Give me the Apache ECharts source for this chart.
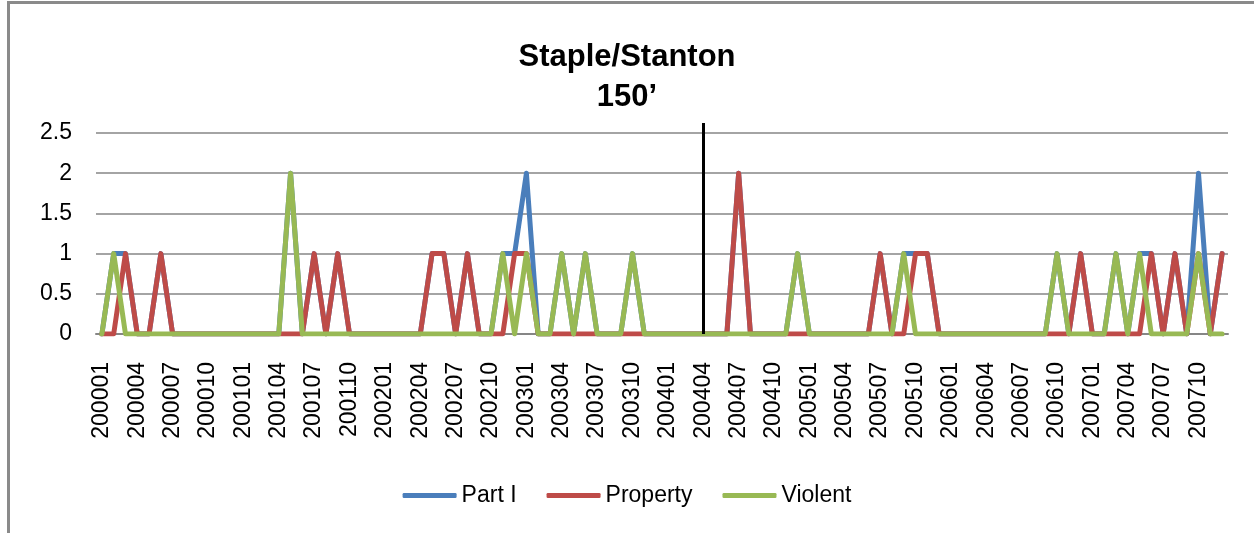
<!DOCTYPE html>
<html>
<head>
<meta charset="utf-8">
<script src="https://cdn.jsdelivr.net/npm/echarts@6/dist/echarts.min.js"></script>
<style>
html,body{margin:0;padding:0;background:#fff;}
#wrap{position:relative;width:1254px;height:533px;overflow:hidden;}
#main{position:absolute;left:0;top:0;width:1254px;height:533px;}
#frame{position:absolute;left:7px;top:1px;right:-10px;bottom:-10px;border-top:3px solid #8a8a8a;border-left:3px solid #8a8a8a;pointer-events:none;}
</style>
</head>
<body>
<div id="wrap"><div id="main"></div><div id="frame"></div></div>
<script>
const categories = [
 '200001','200002','200003','200004','200005','200006','200007','200008','200009','200010','200011','200012',
 '200101','200102','200103','200104','200105','200106','200107','200108','200109','200110','200111','200112',
 '200201','200202','200203','200204','200205','200206','200207','200208','200209','200210','200211','200212',
 '200301','200302','200303','200304','200305','200306','200307','200308','200309','200310','200311','200312',
 '200401','200402','200403','200404','200405','200406','200407','200408','200409','200410','200411','200412',
 '200501','200502','200503','200504','200505','200506','200507','200508','200509','200510','200511','200512',
 '200601','200602','200603','200604','200605','200606','200607','200608','200609','200610','200611','200612',
 '200701','200702','200703','200704','200705','200706','200707','200708','200709','200710','200711','200712'
];
const partI = [
 0,1,1,0,0,1,0,0,0,0,0,0,
 0,0,0,0,2,0,1,0,1,0,0,0,
 0,0,0,0,1,1,0,1,0,0,1,1,
 2,0,0,1,0,1,0,0,0,1,0,0,
 0,0,0,0,0,0,2,0,0,0,0,1,
 0,0,0,0,0,0,1,0,1,1,1,0,
 0,0,0,0,0,0,0,0,0,1,0,1,
 0,0,1,0,1,1,0,1,0,2,0,1
];
const property = [
 0,0,1,0,0,1,0,0,0,0,0,0,
 0,0,0,0,0,0,1,0,1,0,0,0,
 0,0,0,0,1,1,0,1,0,0,0,1,
 1,0,0,0,0,0,0,0,0,0,0,0,
 0,0,0,0,0,0,2,0,0,0,0,0,
 0,0,0,0,0,0,1,0,0,1,1,0,
 0,0,0,0,0,0,0,0,0,0,0,1,
 0,0,0,0,0,1,0,1,0,1,0,1
];
const violent = [
 0,1,0,0,0,0,0,0,0,0,0,0,
 0,0,0,0,2,0,0,0,0,0,0,0,
 0,0,0,0,0,0,0,0,0,0,1,0,
 1,0,0,1,0,1,0,0,0,1,0,0,
 0,0,0,0,0,0,0,0,0,0,0,1,
 0,0,0,0,0,0,0,0,1,0,0,0,
 0,0,0,0,0,0,0,0,0,1,0,0,
 0,0,1,0,1,0,0,0,0,1,0,0
];
const interventionMonth = '200404';
const seriesNames = ['Part I','Property','Violent'];
const colors = ['#4a7ebb','#be4b48','#98b954'];

const font = 'Liberation Sans, Arial, sans-serif';
const chart = echarts.init(document.getElementById('main'), null, {renderer:'canvas'});
const mk = (name, data, color, extra) => Object.assign({
  name, type:'line', data, symbol:'none', showSymbol:false,
  itemStyle:{color},
  lineStyle:{width:5, color:color, join:'round', cap:'round', opacity:1},
  emphasis:{disabled:true}, animation:false
}, extra||{});
chart.setOption({
  animation:false,
  title:{
    text:'Staple/Stanton\n150\u2019', left:'center', top:37, padding:[0,0,0,18],
    textStyle:{fontFamily:font, fontSize:31, fontWeight:'bold', color:'#000', lineHeight:40}
  },
  legend:{
    data:seriesNames, left:'center', top:484, padding:[0,0,0,18],
    icon:'roundRect', itemWidth:54, itemHeight:5, itemGap:30,
    textStyle:{fontFamily:font, fontSize:23, color:'#000'}
  },
  grid:{left:96, right:26, top:123, bottom:199, containLabel:false},
  xAxis:{
    type:'category', data:categories, boundaryGap:true,
    axisLine:{lineStyle:{color:'#868686', width:2}},
    axisTick:{show:false},
    axisLabel:{interval:2, rotate:90, margin:28, fontFamily:font, fontSize:23, color:'#000'}
  },
  yAxis:{
    type:'value', min:0, max:2.625, interval:0.5,
    axisLine:{show:false}, axisTick:{show:false},
    axisLabel:{showMaxLabel:false, margin:24, fontFamily:font, fontSize:23, color:'#000'},
    splitLine:{show:true, showMaxLine:false, lineStyle:{color:'#868686', width:1.5}}
  },
  series:[
    mk(seriesNames[0], partI, colors[0], {
      markLine:{symbol:'none', silent:true, label:{show:false},
        lineStyle:{color:'#000', width:3, type:'solid'},
        data:[{xAxis:interventionMonth}]}
    }),
    mk(seriesNames[1], property, colors[1]),
    mk(seriesNames[2], violent, colors[2])
  ]
});
</script>
</body>
</html>
